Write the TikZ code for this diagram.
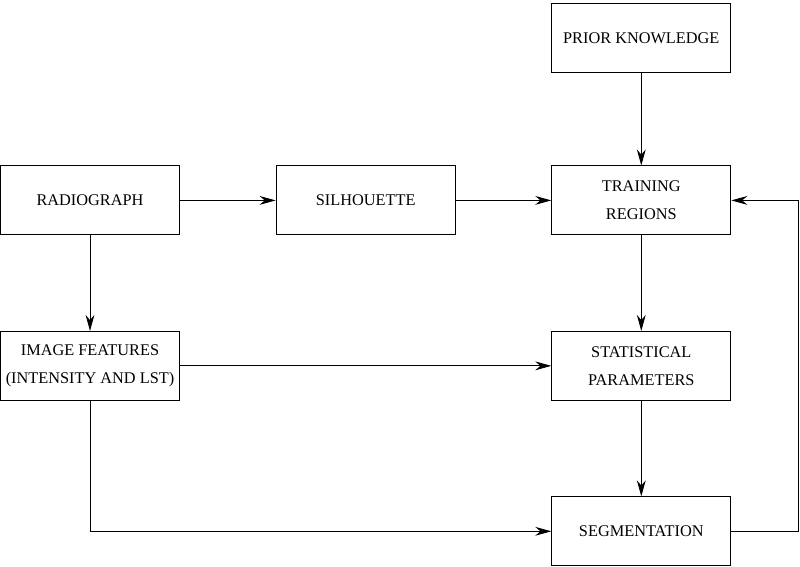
\documentclass[tikz,border=0pt]{standalone}
\usepackage{fontspec}
\setmainfont{Liberation Serif}
\usepackage{tikz}
\usetikzlibrary{positioning, arrows.meta}

\begin{document}
\begin{tikzpicture}[node distance=2.39cm, >={Stealth[length=0.4cm, width=0.22cm]}, line width=0.6pt,
	box node/.style={rectangle, draw, minimum width=4.48cm, minimum height=1.725cm, inner sep=0pt, align=center, font=\fontsize{11.6}{20}\selectfont},
	flow/.style={->, draw}]

			\useasboundingbox (0,0) rectangle (20,-14.16);

			\node[box node] (radio) at (2.25,-5.01) {RADIOGRAPH};
			\node[box node] (sil) [right=of radio] {SILHOUETTE};
			\node[box node] (train) [right=of sil] {TRAINING\\REGIONS};
			\node[box node] (prior) [above=2.32cm of train] {PRIOR KNOWLEDGE};

			\node[box node] (feat) [below=of radio] {IMAGE FEATURES\\(INTENSITY AND LST)};
			\node[box node] (stat) [below=of train] {STATISTICAL\\PARAMETERS};
			\node[box node] (seg) [below=of stat] {SEGMENTATION};

			% top row
			\draw[flow] (radio) -- (sil);
			\draw[flow] (sil) -- (train);
			\draw[flow] (prior) -- (train);
			\draw[flow] (radio) -- (feat);

			% features to the right column
			\draw[flow] (feat) -- (stat);
			\draw[flow] (feat.south) |- (seg.west);
			\draw[flow] (train) -- (stat);
			\draw[flow] (stat) -- (seg);

			% feedback loop
			\coordinate (loop) at ([xshift=1.68cm]seg.east);
			\draw[flow] (seg.east) -- (loop) |- (train.east);

		\end{tikzpicture}
\end{document}
